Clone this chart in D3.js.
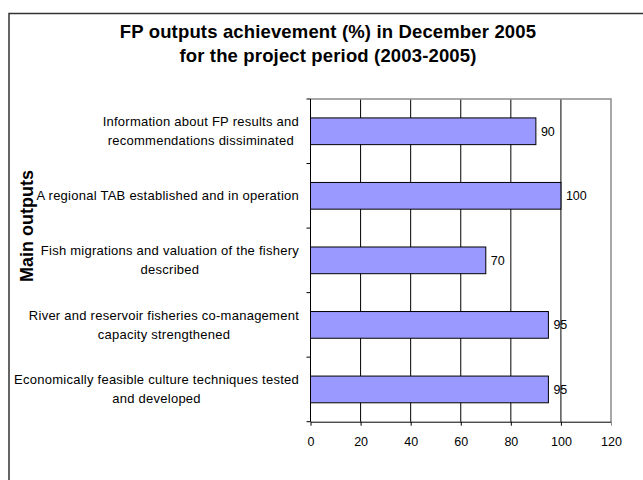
<!DOCTYPE html>
<html>
<head>
<meta charset="utf-8">
<script src="https://cdn.jsdelivr.net/npm/d3@7"></script>
<style>
  body { margin: 0; background: #fff; }
  text { font-family: "Liberation Sans", Arial, sans-serif; }
</style>
</head>
<body>
<div id="chart"></div>
<script>
const categories = [
  ["Information about FP results and", "recommendations dissiminated"],
  ["A regional TAB established and in operation"],
  ["Fish migrations and valuation of the fishery", "described"],
  ["River and reservoir fisheries co-management", "capacity strengthened"],
  ["Economically feasible culture techniques tested", "and developed"]
];
const values = [90, 100, 70, 95, 95];
const xTicks = [0, 20, 40, 60, 80, 100, 120];
const titleLines = ["FP outputs achievement (%) in December 2005", "for the project period (2003-2005)"];
const yTitle = "Main outputs";

(function () {
const W = 643, H = 480;
const plotL = 310.5, plotR = 611, plotT = 99, plotB = 421.7;

const svg = d3.select("#chart").append("svg")
  .attr("width", W)
  .attr("height", H);

svg.append("rect").attr("width", W).attr("height", H).attr("fill", "#fff");

// chart area frame (runs off the right and bottom edge)
svg.append("rect")
  .attr("x", 9).attr("y", 13.5)
  .attr("width", 700).attr("height", 500)
  .attr("fill", "none")
  .attr("stroke", "#333")
  .attr("stroke-width", 1.5);

const keys = d3.range(categories.length);
const x = d3.scaleLinear().domain([0, 120]).range([plotL, plotR]);
const yOuter = d3.scaleBand().domain(keys).range([plotT, plotB]);
const y = d3.scaleBand().domain(keys).range([plotT, plotB])
  .paddingInner(0.586).paddingOuter(0.293);

// title
svg.append("g").selectAll("text")
  .data(titleLines)
  .enter().append("text")
  .attr("x", 328)
  .attr("y", (d, i) => 38 + i * 24)
  .attr("text-anchor", "middle")
  .attr("font-size", "18.5px")
  .attr("letter-spacing", "0.15px")
  .attr("font-weight", "bold")
  .text(d => d);

// grid
svg.append("g").selectAll("line")
  .data(xTicks.slice(1, -1))
  .enter().append("line")
  .attr("x1", d => x(d)).attr("x2", d => x(d))
  .attr("y1", plotT).attr("y2", plotB)
  .attr("stroke", "#000").attr("stroke-width", 1);

// plot border top/right
svg.append("path")
  .attr("d", "M" + plotL + "," + plotT + "H" + plotR + "V" + plotB)
  .attr("fill", "none").attr("stroke", "#8c8c8c").attr("stroke-width", 1.5);

// bars
svg.selectAll(".bar")
  .data(values)
  .enter().append("rect")
  .attr("class", "bar")
  .attr("x", x(0))
  .attr("y", (d, i) => y(i))
  .attr("width", d => x(d) - x(0))
  .attr("height", y.bandwidth())
  .attr("fill", "#9999ff")
  .attr("stroke", "#000")
  .attr("stroke-width", 1);

// value labels
svg.selectAll(".val")
  .data(values)
  .enter().append("text")
  .attr("class", "val")
  .attr("x", d => x(d) + 5)
  .attr("y", (d, i) => y(i) + y.bandwidth() / 2)
  .attr("dy", "0.35em")
  .attr("font-size", "12.5px")
  .text(d => d);

// x axis
const xAxis = d3.axisBottom(x).tickValues(xTicks).tickSize(4).tickSizeOuter(0).tickPadding(11);
const gx = svg.append("g")
  .attr("transform", "translate(0," + plotB + ")")
  .call(xAxis);
gx.select(".domain").attr("stroke", "#000");
gx.selectAll("text").attr("font-size", "12.5px").attr("font-family", "Liberation Sans, Arial, sans-serif").attr("fill", "#000");
gx.selectAll(".tick line").attr("stroke", d => d === 120 ? "#8c8c8c" : "#000");

// y axis line and boundary ticks
const bounds = keys.map(k => yOuter(k)).concat([plotB]);
svg.append("line")
  .attr("x1", plotL).attr("x2", plotL)
  .attr("y1", plotT).attr("y2", plotB)
  .attr("stroke", "#000");
svg.append("g").selectAll("line")
  .data(bounds)
  .enter().append("line")
  .attr("x1", plotL - 4).attr("x2", plotL)
  .attr("y1", d => d).attr("y2", d => d)
  .attr("stroke", "#000");

// category labels: block right-aligned, lines centred in the block
const labelRight = 299;
const lineGap = 19;
const labels = svg.append("g").selectAll("g")
  .data(categories)
  .enter().append("g");
labels.each(function (lines, i) {
  const g = d3.select(this);
  const cy = yOuter(i) + yOuter.bandwidth() / 2;
  const t = g.selectAll("text").data(lines).enter().append("text")
    .attr("font-size", "13px")
    .attr("letter-spacing", "0.25px")
    .attr("text-anchor", "middle")
    .attr("dy", "0.35em")
    .attr("y", (d, j) => cy + (j - (lines.length - 1) / 2) * lineGap)
    .text(d => d);
  let maxW = 0;
  t.each(function () { maxW = Math.max(maxW, this.getComputedTextLength()); });
  t.attr("x", labelRight - maxW / 2);
});

// y title
svg.append("text")
  .attr("transform", "translate(33,226) rotate(-90)")
  .attr("text-anchor", "middle")
  .attr("font-size", "18px")
  .attr("font-weight", "bold")
  .text(yTitle);
}());
</script>
</body>
</html>
